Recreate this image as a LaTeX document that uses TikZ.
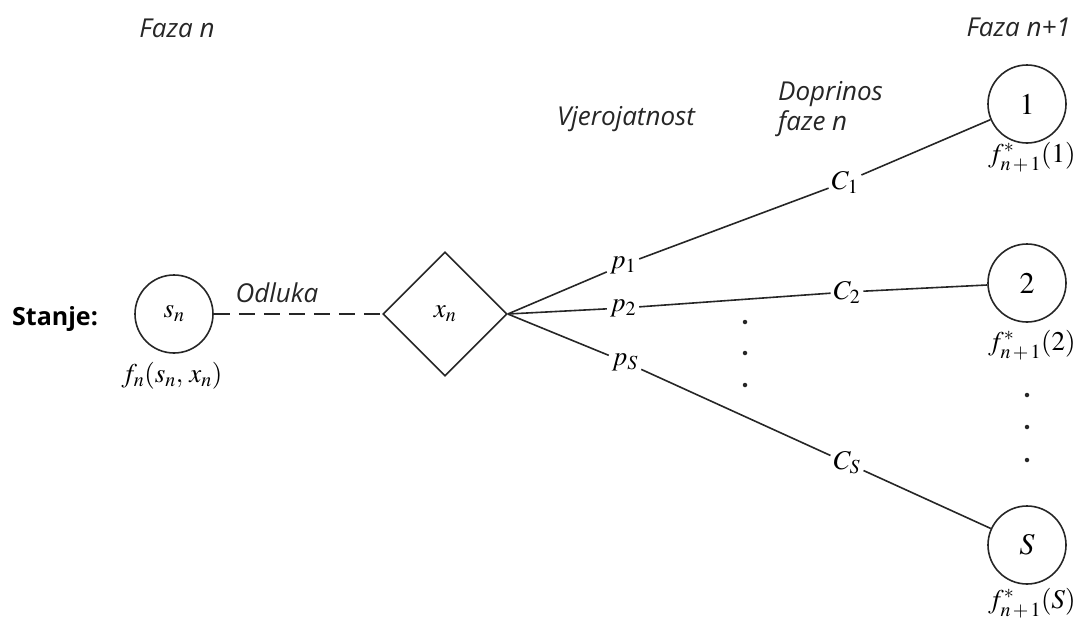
\documentclass[tikz,border=0pt]{standalone}
\usepackage{mathptmx}
\usepackage[no-math]{fontspec}
\setmainfont{Open Sans}
\usetikzlibrary{shapes.geometric}
\tikzset{
  lbl/.style={font=\fontsize{26}{30}\selectfont\itshape, text=black!85, inner sep=0},
  mlbl/.style={font=\fontsize{27}{31}\selectfont, inner sep=3pt},
  ln/.style={line width=1.6pt, draw=black!85},
  st/.style={circle, ln, minimum size=78pt, inner sep=0, font=\fontsize{30}{34}\selectfont},
  dec/.style={diamond, ln, minimum width=124pt, minimum height=124pt, inner sep=0, font=\fontsize{27}{31}\selectfont},
  dotn/.style={circle, fill=black!85, inner sep=0, minimum size=4.5pt},
}
\begin{document}
\begin{tikzpicture}[x=1pt,y=-1pt]
\useasboundingbox (0,0) rectangle (1079,627);
% header labels
\node[lbl, anchor=base] (fazan) at (177,37) {Faza n};
\node[lbl, anchor=base east] (fazan1) at (1071,36) {Faza n+1};
\node[lbl, anchor=base] (vj) at (626,125) {Vjerojatnost};
\node[lbl, anchor=base west] (dop) at (778,100) {Doprinos};
\node[lbl, anchor=base west] (faze) at (778,130) {faze n};
\node[lbl, anchor=base] (odl) at (277,302) {Odluka};
\node[font=\fontsize{25}{29}\selectfont\bfseries, anchor=base west, inner sep=0] (stanje) at (12,325) {Stanje:};
% state and decision
\node[st, font=\fontsize{27}{31}\selectfont] (sn) at (174,314) {$s_n$};
\node[mlbl] (fn) at (172,376) {$f_n(s_n,\, x_n)$};
\node[dec] (xn) at (445,314) {$x_n$};
% probabilities
\node[mlbl] (p1) at (623,265) {$p_1$};
\node[mlbl] (p2) at (623,308) {$p_2$};
\node[mlbl] (pS) at (625,362) {$p_S$};
% contributions
\node[mlbl] (C1) at (845,182) {$C_1$};
\node[mlbl] (C2) at (847,292) {$C_2$};
\node[mlbl] (CS) at (847,463) {$C_S$};
% next states
\node[st] (n1) at (1027,104) {$1$};
\node[st] (n2) at (1027,283) {$2$};
\node[st] (nS) at (1027,545) {$S$};
\node[mlbl] (f1) at (1032,157) {$f^*_{n\,+\,1}(1)$};
\node[mlbl] (f2) at (1032,345) {$f^*_{n\,+\,1}(2)$};
\node[mlbl] (fS) at (1032,603) {$f^*_{n\,+\,1}(S)$};
% dots
\node[dotn] (d1) at (745,322) {};
\node[dotn] (d2) at (745,353) {};
\node[dotn] (d3) at (745,385) {};
\node[dotn] (e1) at (1027,395) {};
\node[dotn] (e2) at (1027,427) {};
\node[dotn] (e3) at (1027,460) {};
% connectors
\draw[ln, dash pattern=on 16pt off 9pt] (sn) -- (xn);
\draw[ln] (xn.east) -- (p1);
\draw[ln] (xn.east) -- (p2);
\draw[ln] (xn.east) -- (pS);
\draw[ln] (p1) -- (C1);
\draw[ln] (p2) -- (C2);
\draw[ln] (pS) -- (CS);
\draw[ln] (C1) -- (n1);
\draw[ln] (C2) -- (n2);
\draw[ln] (CS) -- (nS);
\end{tikzpicture}
\end{document}
